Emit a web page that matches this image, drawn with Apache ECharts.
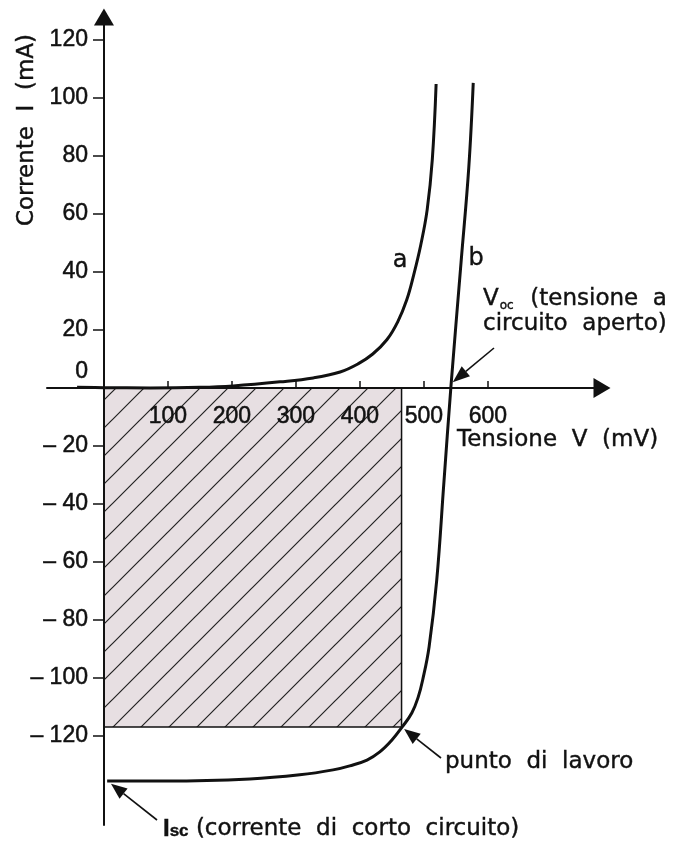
<!DOCTYPE html>
<html><head><meta charset="utf-8">
<script src="https://cdn.jsdelivr.net/npm/echarts@6/dist/echarts.min.js"></script>
<style>html,body{margin:0;padding:0;background:#fff}#c{width:673px;height:844px}</style>
</head><body><div id="c"></div>
<script>
// ---- data ----
const xTicks = [100, 200, 300, 400, 500, 600];
const yTicks = [-120, -100, -80, -60, -40, -20, 0, 20, 40, 60, 80, 100, 120];
// curve a (V mV, I mA)
const curveA = [[-42,0.2],[0,0.1],[72,0],[150,0.2],[202,0.7],[275,2.1],[327,3.45],[369,5.5],[397,8.3],[420,11.7],[442,16.6],[459,22.8],[473,30.3],[484,39.0],[495,49.3],[505,61.4],[513,78.6],[519,104.8]];
// curve b
const curveB = [[577,105.2],[570,75.9],[558,43.4],[542,0],[531,-33.1],[520,-66.2],[508,-89.3],[498,-100.7],[491,-106.6],[481,-112.1],[466,-116.9],[450,-121.4],[431,-125.5],[411,-128.3],[384,-130.3],[358,-131.7],[306,-133.4],[228,-134.8],[98,-135.5],[5,-135.5]];
// working point rectangle: V from 0 to Vm, I from 0 to Im
const rectV = [0, 465];
const rectI = [0, -116.9];
const vocPoint = [545, 2];
const workPoint = [469, -117.6];
const iscPoint = [11, -136.5];

const NUMF = 'Liberation Sans';
const TXTF = 'DejaVu Sans';
const INK = '#111';
const BOLDEN = {textBorderColor: INK, textBorderWidth: 0.5};

function hatch() {
  const s = 28;
  const c = document.createElement('canvas');
  c.width = s; c.height = s;
  const g = c.getContext('2d');
  g.fillStyle = '#e7dfe2';
  g.fillRect(0, 0, s, s);
  g.strokeStyle = '#222';
  g.lineWidth = 1.2;
  g.beginPath();
  g.moveTo(-2, s + 2); g.lineTo(s + 2, -2);
  g.moveTo(-2, 2); g.lineTo(2, -2);
  g.moveTo(s - 2, s + 2); g.lineTo(s + 2, s - 2);
  g.stroke();
  return c;
}
const pattern = hatch();

const GL = 47, GT = 17, GW = 555, GH = 808;
const XMIN = -89, XMAX = 778.2, YMIN = -150.7, YMAX = 127.9;
// offsets put each axis line on the other axis' zero
const yAxisOffset = -GW * (0 - XMIN) / (XMAX - XMIN);
const xAxisOffset = -GH * (0 - YMIN) / (YMAX - YMIN);

const chart = echarts.init(document.getElementById('c'), null, {renderer: 'canvas'});
const option = {
  animation: false,
  backgroundColor: '#fff',
  grid: {left: GL, top: GT, width: GW, height: GH, containLabel: false, outerBoundsMode: 'none'},
  xAxis: {
    type: 'value', min: XMIN, max: XMAX, z: 10, position: 'bottom', offset: xAxisOffset,
    axisLine: {onZero: false, lineStyle: {color: INK, width: 2}, symbol: ['none', 'triangle'], symbolSize: [20, 17]},
    axisTick: {show: true, inside: true, length: 7, customValues: xTicks, lineStyle: {color: INK, width: 1.5}},
    axisLabel: Object.assign({customValues: xTicks, margin: 17, fontSize: 23, fontFamily: NUMF, color: INK}, BOLDEN),
    splitLine: {show: false}
  },
  yAxis: {
    type: 'value', min: YMIN, max: YMAX, z: 10, position: 'left', offset: yAxisOffset,
    axisLine: {onZero: false, lineStyle: {color: INK, width: 2}, symbol: ['none', 'triangle'], symbolSize: [20, 17]},
    axisTick: {show: true, inside: false, length: 11, customValues: yTicks, lineStyle: {color: INK, width: 1.5}},
    axisLabel: Object.assign({
      customValues: yTicks, margin: 16, fontSize: 23, fontFamily: NUMF, color: INK,
      formatter: function (v) { return v === 0 ? '{z|0}' : (v < 0 ? '\u2013 ' + (-v) : '' + v); },
      rich: {z: Object.assign({fontSize: 23, fontFamily: NUMF, color: INK, padding: [0, 0, 32, 0]}, BOLDEN)}
    }, BOLDEN),
    splitLine: {show: false}
  },
  series: [
    {
      type: 'custom', z: 1, silent: true,
      data: [[rectV[0], rectI[0], rectV[1], rectI[1]]],
      encode: {x: [0, 2], y: [1, 3]},
      renderItem: function (params, api) {
        const p1 = api.coord([api.value(0), api.value(1)]);
        const p2 = api.coord([api.value(2), api.value(3)]);
        return {
          type: 'rect',
          shape: {x: Math.min(p1[0], p2[0]), y: Math.min(p1[1], p2[1]), width: Math.abs(p2[0] - p1[0]), height: Math.abs(p2[1] - p1[1])},
          style: {fill: {image: pattern, repeat: 'repeat'}, stroke: INK, lineWidth: 1.5}
        };
      }
    },
    {type: 'line', name: 'a', data: curveA, showSymbol: false, smooth: 0.4, z: 3, lineStyle: {color: INK, width: 3}},
    {type: 'line', name: 'b', data: curveB, showSymbol: false, smooth: 0.4, z: 3, lineStyle: {color: INK, width: 3}}
  ]
};
chart.setOption(option);

function arrow(tail, tip, len, wid) {
  const dx = tip[0] - tail[0], dy = tip[1] - tail[1];
  const L = Math.hypot(dx, dy);
  const ux = dx / L, uy = dy / L;
  const bx = tip[0] - ux * len, by = tip[1] - uy * len;
  const px = -uy * wid / 2, py = ux * wid / 2;
  return [
    {type: 'line', shape: {x1: tail[0], y1: tail[1], x2: bx, y2: by}, style: {stroke: INK, lineWidth: 1.6}, z: 20},
    {type: 'polygon', shape: {points: [tip, [bx + px, by + py], [bx - px, by - py]]}, style: {fill: INK}, z: 20}
  ];
}
function txt(x, y, text, extra) {
  return {type: 'text', x: x, y: y, z: 20, style: Object.assign({text: text, fontFamily: TXTF, fontSize: 23, fill: INK, align: 'left', verticalAlign: 'middle', stroke: INK, lineWidth: 0.4}, extra || {})};
}
const cv = (p) => chart.convertToPixel({gridIndex: 0}, p);

const g = [];
g.push(...arrow([494, 348], cv(vocPoint), 17, 13));
g.push(...arrow([441, 758], cv(workPoint), 16, 13));
g.push(...arrow([157, 820], cv(iscPoint), 16, 13));
g.push(txt(400, 261, 'a', {align: 'center', fontSize: 24}));
g.push(txt(476, 259, 'b', {align: 'center', fontSize: 24}));
g.push(txt(483, 299, '{V|V}{s|oc}  (tensione  a', {rich: {V: {fontFamily: TXTF, fontSize: 23, fill: INK}, s: {fontFamily: TXTF, fontSize: 12, fill: INK, padding: [14, 2, 0, 1]}}}));
g.push(txt(483, 324, 'circuito  aperto)'));
g.push(txt(457, 440, 'Tensione  V  (mV)'));
g.push(txt(445, 762, 'punto  di  lavoro'));
g.push(txt(163, 829, '{I|I}{s|sc} (corrente  di  corto  circuito)', {rich: {I: {fontFamily: NUMF, fontWeight: 'bold', fontSize: 24, fill: INK}, s: {fontFamily: NUMF, fontWeight: 'bold', fontSize: 17, fill: INK, padding: [4, 0, 0, 0]}}}));
g.push({type: 'text', x: 27, y: 130, rotation: Math.PI / 2, z: 20, style: {text: 'Corrente  I  (mA)', fontFamily: TXTF, fontSize: 23, fill: INK, align: 'center', verticalAlign: 'middle', stroke: INK, lineWidth: 0.4}});
chart.setOption({graphic: {elements: g}});
</script>
</body></html>
